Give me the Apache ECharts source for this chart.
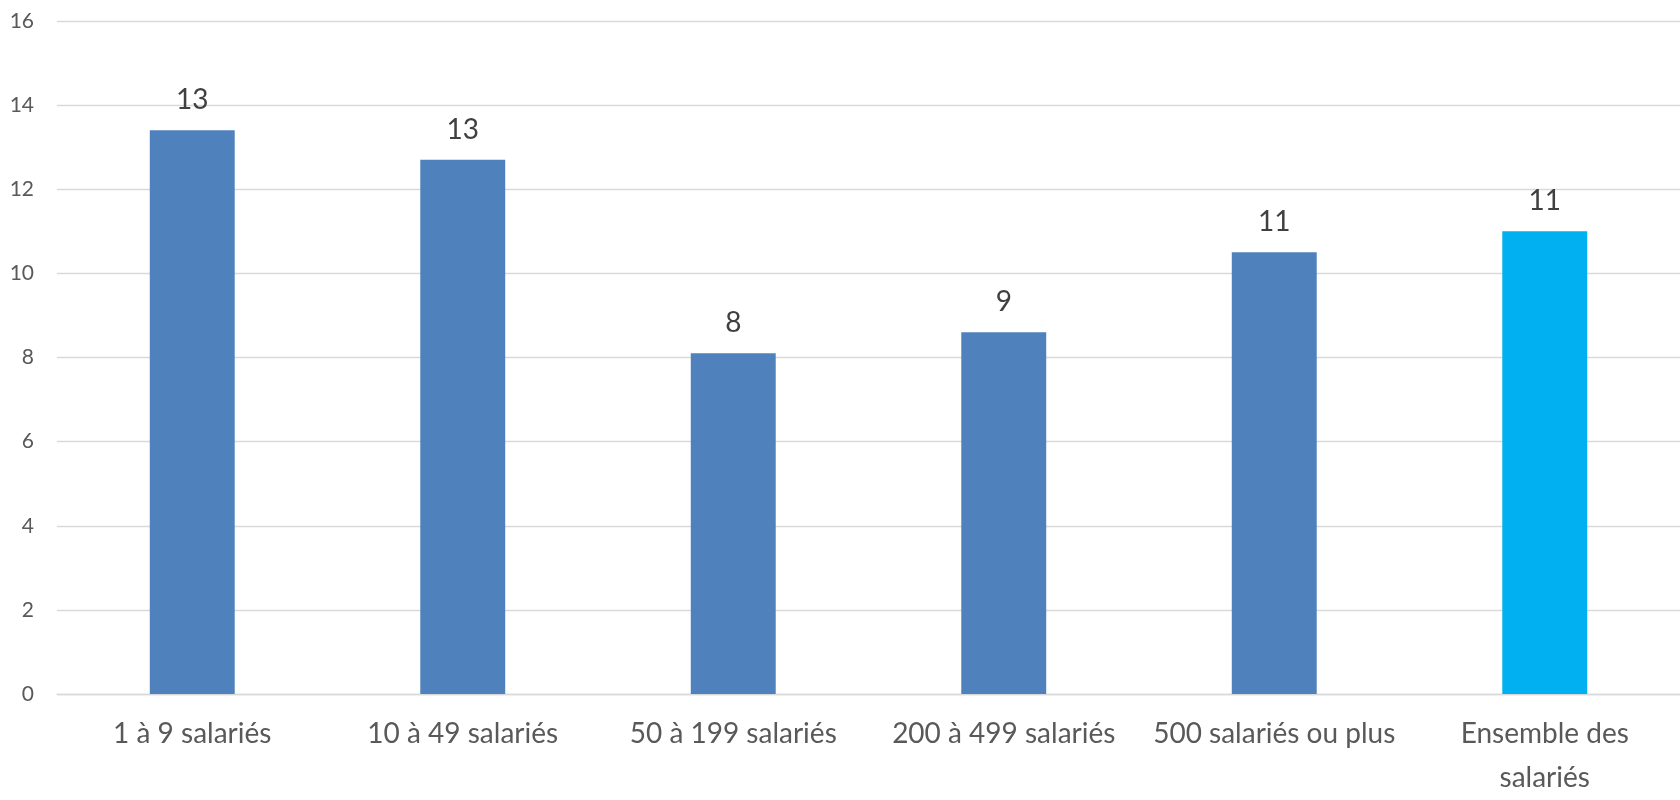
<!DOCTYPE html>
<html><head><meta charset="utf-8">
<script src="https://cdn.jsdelivr.net/npm/echarts@6/dist/echarts.min.js"></script>
<style>html,body{margin:0;padding:0;background:#fff}#c{width:1680px;height:800px}</style>
</head><body><div id="c"></div>
<script>
const categories = ["1 à 9 salariés", "10 à 49 salariés", "50 à 199 salariés", "200 à 499 salariés", "500 salariés ou plus", "Ensemble des\nsalariés"];
const values = [13.4, 12.7, 8.1, 8.6, 10.5, 11.0];
const barColors = ["#4F81BD", "#4F81BD", "#4F81BD", "#4F81BD", "#4F81BD", "#00B0F0"];
const yTicks = { min: 0, max: 16, interval: 2 };
const chart = echarts.init(document.getElementById('c'));
chart.setOption({
  animation: false,
  textStyle: { fontFamily: "Lato" },
  grid: { left: 57, right: -11, top: 21, bottom: 93, containLabel: false },
  xAxis: {
    type: 'category', data: categories,
    axisLine: { lineStyle: { color: '#D9D9D9', width: 1.3 } },
    axisTick: { show: false },
    axisLabel: { color: '#595959', fontSize: 28, margin: 18, lineHeight: 44, interval: 0, fontFamily: 'Lato' }
  },
  yAxis: {
    type: 'value', min: yTicks.min, max: yTicks.max, interval: yTicks.interval,
    axisLine: { show: false }, axisTick: { show: false },
    splitLine: { lineStyle: { color: '#D9D9D9', width: 1.3 } },
    axisLabel: { color: '#595959', fontSize: 21, margin: 23, fontFamily: 'Lato' }
  },
  series: [{
    type: 'bar', barWidth: '31.4%',
    data: values.map((v, i) => ({ value: v, itemStyle: { color: barColors[i] } })),
    label: { show: true, position: 'top', distance: 16, color: '#404040', fontSize: 28, fontFamily: 'Lato',
      formatter: p => String(Math.round(p.value)) }
  }]
});
</script></body></html>
